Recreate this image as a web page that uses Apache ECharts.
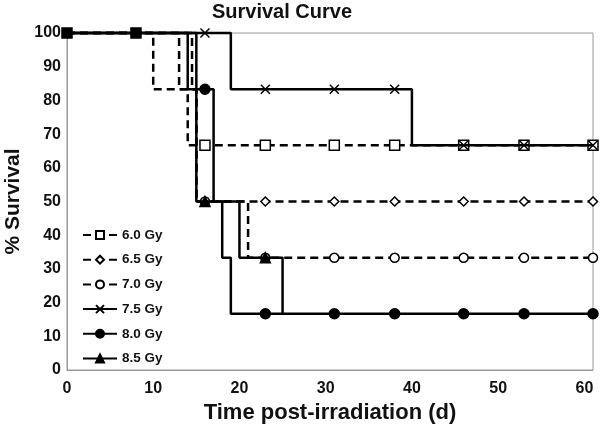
<!DOCTYPE html>
<html>
<head>
<meta charset="utf-8">
<script src="https://cdn.jsdelivr.net/npm/echarts@6/dist/echarts.min.js"></script>
<style>
html,body{margin:0;padding:0;background:#fff;}
#chart{width:600px;height:427px;}
</style>
</head>
<body>
<div id="chart"></div>
<script>
// Observation days on which markers are drawn
const obsDays = [0, 8, 16, 23, 31, 38, 46, 53, 61];

// Step points (day, % survival) for each dose
const gy60Days = [0, 8, 10, 14, 16, 23, 31, 38, 46, 53, 61];
const gy60Vals = [100, 100, 83.3, 66.7, 66.7, 66.7, 66.7, 66.7, 66.7, 66.7, 66.7];

const gy65Days = [0, 8, 13, 15, 16, 23, 31, 38, 46, 53, 61];
const gy65Vals = [100, 100, 83.3, 50, 50, 50, 50, 50, 50, 50, 50];

const gy70Days = [0, 8, 14.5, 15, 16, 21, 23, 31, 38, 46, 53, 61];
const gy70Vals = [100, 100, 83.3, 50, 50, 33.3, 33.3, 33.3, 33.3, 33.3, 33.3, 33.3];

const gy75Days = [0, 8, 16, 19, 23, 31, 38, 40, 46, 53, 61];
const gy75Vals = [100, 100, 100, 83.3, 83.3, 83.3, 83.3, 66.7, 66.7, 66.7, 66.7];

const gy80Days = [0, 8, 14, 16, 17, 18, 19, 23, 31, 38, 46, 53, 61];
const gy80Vals = [100, 100, 83.3, 83.3, 50, 33.3, 16.7, 16.7, 16.7, 16.7, 16.7, 16.7, 16.7];

const gy85Days = [0, 8, 15, 16, 20, 23, 25];
const gy85Vals = [100, 100, 50, 50, 33.3, 33.3, 16.7];

const seriesNames = ['6.0 Gy', '6.5 Gy', '7.0 Gy', '7.5 Gy', '8.0 Gy', '8.5 Gy'];
const xTicks = [0, 10, 20, 30, 40, 50, 60];
const yTicks = [0, 10, 20, 30, 40, 50, 60, 70, 80, 90, 100];

const FONT = '"Liberation Sans", Arial, sans-serif';
const crossPath = 'path://M0,0L10,10M10,0L0,10';

function buildData(days, vals, isFirst) {
  return days.map((d, i) => {
    const item = { value: [d, vals[i]] };
    const isObs = obsDays.indexOf(d) >= 0;
    if (!isObs) {
      item.symbol = 'none';
    } else if (d === 0 || d === 8) {
      if (isFirst) {
        item.symbol = 'rect';
        item.symbolSize = 10;
        item.itemStyle = { color: '#000', borderColor: '#000' };
      } else {
        item.symbol = 'none';
      }
    }
    return item;
  });
}

const defs = [
  { name: seriesNames[0], days: gy60Days, vals: gy60Vals, dash: true, symbol: 'rect', size: 10, fill: '#fff' },
  { name: seriesNames[1], days: gy65Days, vals: gy65Vals, dash: true, symbol: 'diamond', size: 9, fill: '#fff' },
  { name: seriesNames[2], days: gy70Days, vals: gy70Vals, dash: true, symbol: 'circle', size: 9, fill: '#fff' },
  { name: seriesNames[3], days: gy75Days, vals: gy75Vals, dash: false, symbol: crossPath, size: 9, fill: 'none' },
  { name: seriesNames[4], days: gy80Days, vals: gy80Vals, dash: false, symbol: 'circle', size: 10, fill: '#000' },
  { name: seriesNames[5], days: gy85Days, vals: gy85Vals, dash: false, symbol: 'triangle', size: 10, fill: '#000' }
];

const series = defs.map((s, idx) => ({
  name: s.name,
  type: 'line',
  step: 'end',
  clip: false,
  showSymbol: true,
  symbol: s.symbol,
  symbolSize: s.size,
  data: buildData(s.days, s.vals, idx === 0),
  lineStyle: { color: '#000', width: 2.5, type: s.dash ? [8, 5] : 'solid' },
  itemStyle: { color: s.fill, borderColor: '#000', borderWidth: 1.5 },
  emphasis: { disabled: true },
  animation: false,
  z: 2 + idx
}));

const chart = echarts.init(document.getElementById('chart'), null, { renderer: 'canvas' });
chart.setOption({
  backgroundColor: '#fff',
  animation: false,
  title: {
    text: 'Survival Curve',
    left: 277,
    top: -3,
    textAlign: 'center',
    textStyle: { fontFamily: FONT, fontWeight: 'bold', fontSize: 20, color: '#111' }
  },
  grid: {
    left: 67, right: 7, top: 33, bottom: 57,
    containLabel: false,
    outerBoundsMode: 'none',
    show: true, borderColor: '#999', borderWidth: 1, backgroundColor: 'transparent'
  },
  legend: {
    orient: 'vertical',
    left: 77,
    top: 223,
    itemWidth: 34,
    itemHeight: 10,
    itemGap: 10.7,
    data: seriesNames,
    textStyle: { fontFamily: FONT, fontWeight: 'bold', fontSize: 13.5, color: '#111' }
  },
  xAxis: {
    type: 'value',
    min: 0, max: 61, interval: 10,
    name: 'Time post-irradiation (d)',
    nameLocation: 'middle',
    nameGap: 25,
    nameTextStyle: { fontFamily: FONT, fontWeight: 'bold', fontSize: 22, color: '#111' },
    axisLine: { show: true, lineStyle: { color: '#999', width: 1 } },
    axisTick: { show: false },
    splitLine: { show: false },
    axisLabel: {
      fontFamily: FONT, fontWeight: 'bold', fontSize: 16, color: '#111', margin: 11,
      formatter: v => (xTicks.indexOf(v) >= 0 ? String(v) : '')
    }
  },
  yAxis: {
    type: 'value',
    min: 0, max: 100, interval: 10,
    name: '% Survival',
    nameLocation: 'middle',
    nameGap: 35,
    nameTextStyle: { fontFamily: FONT, fontWeight: 'bold', fontSize: 21, color: '#111' },
    axisLine: { show: true, lineStyle: { color: '#999', width: 1 } },
    axisTick: { show: false },
    splitLine: { show: false },
    axisLabel: {
      fontFamily: FONT, fontWeight: 'bold', fontSize: 16, color: '#111', margin: 6,
      formatter: v => (yTicks.indexOf(v) >= 0 ? String(v) : '')
    }
  },
  series: series
});
</script>
</body>
</html>
